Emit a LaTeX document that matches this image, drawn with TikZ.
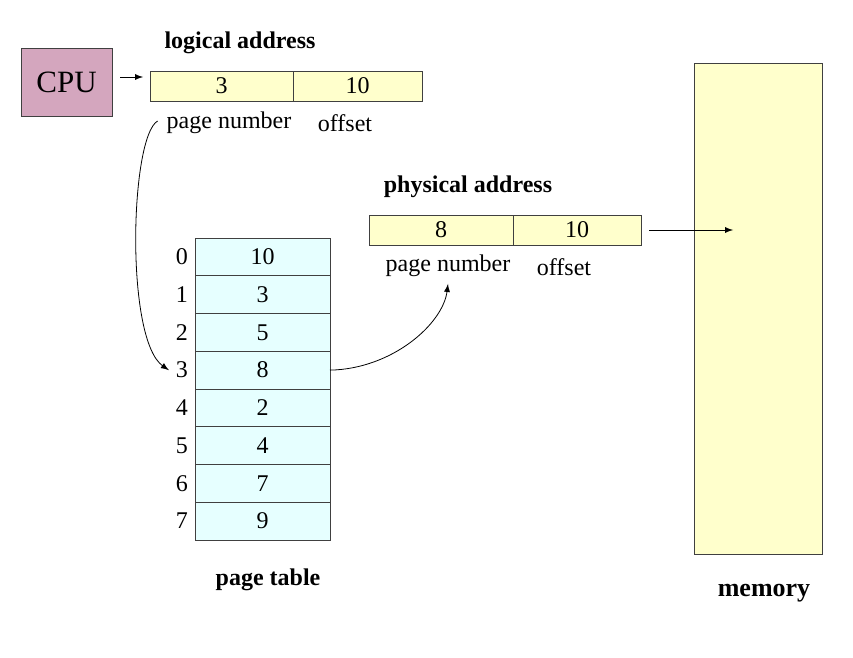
\documentclass[tikz,border=0pt]{standalone}
\usepackage{fontspec}
\setmainfont{Liberation Serif}
\usetikzlibrary{positioning}

\definecolor{cpupink}{RGB}{212,166,190}
\definecolor{addryel}{RGB}{255,255,204}
\definecolor{tabcyan}{RGB}{230,255,255}

\tikzset{
  cellbox/.style={draw=black!75, fill=addryel, minimum height=15pt, inner sep=0pt, outer sep=0pt},
  tabcell/.style={draw=black!75, fill=tabcyan, minimum width=67.5pt, minimum height=18.875pt, inner sep=0pt, outer sep=0pt},
  boldlabel/.style={font=\fontsize{12}{14}\selectfont\bfseries}
}

\begin{document}
\begin{tikzpicture}[>=latex, x=0.5pt, y=-0.5pt, font=\fontsize{12}{14}\selectfont]

\useasboundingbox (0,0) rectangle (853,658);

% cpu and logical address
\node[draw=black!75, fill=cpupink, minimum width=45.5pt, minimum height=34pt, font=\fontsize{15.5}{18}\selectfont] (cpu) at (66.5,82) {CPU};

\node[cellbox, minimum width=71.5pt] (lpage) at (221.5,86) {3};
\node[cellbox, minimum width=64.5pt, right=0pt of lpage] (loff) {10};
\node[boldlabel] (ltitle) at (240,43) {logical address};
\node (lpn) at (229,123) {page number};
\node (lofs) at (345,123) {offset};

\draw[->] ([shift={(4pt,2.5pt)}]cpu.east) -- ([shift={(-3.5pt,4.5pt)}]lpage.west);

% page table
\foreach \i/\v in {0/10,1/3,2/5,3/8,4/2,5/4,6/7,7/9} {
  \node[tabcell] (pt\i) at (262.5,{256.875+37.75*\i}) {\v};
  \node[left=0pt of pt\i] (idx\i) {\i};
}
\node[boldlabel] (pttitle) at (268,580) {page table};

% physical address
\node[cellbox, minimum width=72pt] (ppage) at (441,230) {8};
\node[cellbox, minimum width=64pt, right=0pt of ppage] (poff) {10};
\node[boldlabel] (ptitle) at (468,187) {physical address};
\node (ppn) at (448,266) {page number};
\node (pofs) at (564,267) {offset};

% memory
\node[draw=black!75, fill=addryel, minimum width=64pt, minimum height=245.5pt, inner sep=0pt] (mem) at (758,308.5) {};
\node[font=\fontsize{13}{15}\selectfont\bfseries] (memlabel) at (764,593) {memory};
\coordinate (memin) at (733,230);

% arrows
\draw[->] ([xshift=-1pt,yshift=1pt]lpn.west) .. controls (130,137) and (125,340) .. (idx3.west);
\draw[->] (pt3.east) .. controls (392,369) and (443,324) .. (ppn.south);
\draw[->] ([xshift=4pt]poff.east) -- (memin);

\end{tikzpicture}
\end{document}
